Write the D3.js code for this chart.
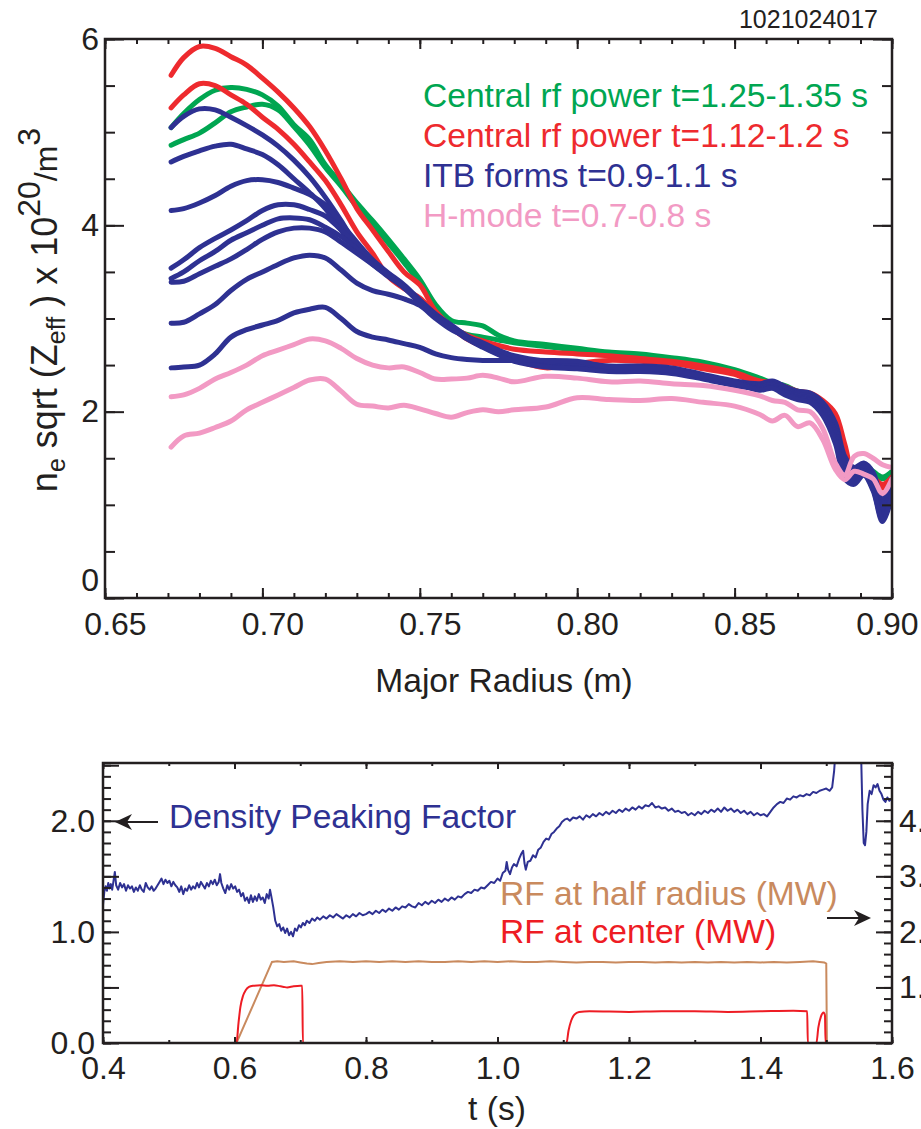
<!DOCTYPE html>
<html><head><meta charset="utf-8">
<script src="https://cdn.jsdelivr.net/npm/d3@7"></script>
<style>
body{margin:0;background:#fff;}
svg text{font-family:"Liberation Sans",Arial,Helvetica,sans-serif;}
</style></head><body>
<svg id="c" width="921" height="1129"></svg>
<script>
// ---------- TOP PANEL DATA: profiles vs major radius (m) ----------
const radius = [0.671,0.675,0.68,0.685,0.69,0.695,0.70,0.705,0.71,0.715,0.72,0.725,0.73,0.735,0.74,0.745,0.75,0.755,0.76,0.765,0.77,0.775,0.78,0.79,0.80,0.81,0.82,0.83,0.84,0.85,0.858,0.862,0.866,0.87,0.874,0.878,0.882,0.885,0.888,0.891,0.894,0.897,0.90];
const green1 = [5.05,5.20,5.35,5.45,5.48,5.46,5.40,5.28,5.08,4.92,4.65,4.45,4.24,4.05,3.85,3.64,3.42,3.15,2.98,2.95,2.92,2.82,2.76,2.72,2.68,2.64,2.62,2.58,2.53,2.45,2.36,2.31,2.28,2.22,2.19,2.09,1.87,1.52,1.38,1.44,1.36,1.30,1.36];
const green2 = [4.86,4.92,4.99,5.10,5.22,5.27,5.30,5.24,5.06,4.86,4.62,4.42,4.20,4.01,3.81,3.60,3.38,3.12,2.90,2.83,2.80,2.77,2.74,2.70,2.66,2.62,2.60,2.56,2.50,2.42,2.34,2.29,2.26,2.20,2.17,2.07,1.85,1.50,1.36,1.42,1.34,1.28,1.34];
const red1 = [5.61,5.80,5.92,5.90,5.81,5.72,5.58,5.43,5.26,5.06,4.80,4.50,4.18,3.95,3.72,3.50,3.36,3.08,2.92,2.82,2.76,2.71,2.67,2.64,2.62,2.60,2.57,2.54,2.49,2.42,2.33,2.31,2.27,2.22,2.20,2.12,1.98,1.65,1.32,1.40,1.30,1.22,1.30];
const red2 = [5.26,5.40,5.52,5.50,5.40,5.30,5.16,5.03,4.87,4.68,4.48,4.22,3.93,3.70,3.45,3.32,3.22,3.05,2.90,2.78,2.70,2.62,2.56,2.47,2.52,2.55,2.54,2.52,2.46,2.40,2.29,2.29,2.24,2.19,2.17,2.09,1.93,1.58,1.30,1.38,1.28,1.18,1.27];
const blue1 = [5.05,5.17,5.25,5.24,5.16,5.07,4.97,4.85,4.70,4.52,4.30,4.05,3.78,3.60,3.46,3.34,3.18,3.03,2.92,2.80,2.72,2.64,2.58,2.53,2.52,2.49,2.49,2.47,2.40,2.33,2.30,2.33,2.27,2.22,2.20,2.10,1.88,1.52,1.40,1.45,1.35,1.05,1.28];
const blue2 = [4.68,4.74,4.80,4.85,4.87,4.82,4.76,4.65,4.50,4.35,4.18,3.95,3.74,3.58,3.45,3.33,3.17,3.02,2.91,2.79,2.71,2.63,2.57,2.52,2.50,2.47,2.47,2.45,2.39,2.32,2.29,2.32,2.26,2.20,2.19,2.08,1.84,1.48,1.38,1.43,1.30,1.00,1.25];
const blue3 = [4.16,4.18,4.24,4.32,4.42,4.48,4.49,4.46,4.40,4.33,4.22,4.02,3.82,3.63,3.49,3.36,3.20,3.05,2.93,2.81,2.72,2.64,2.57,2.51,2.49,2.46,2.46,2.44,2.38,2.31,2.28,2.31,2.25,2.19,2.17,2.06,1.82,1.46,1.36,1.41,1.28,0.97,1.22];
const blue4 = [3.54,3.63,3.76,3.86,3.95,4.05,4.16,4.22,4.22,4.17,4.10,3.95,3.80,3.62,3.48,3.35,3.19,3.04,2.92,2.80,2.71,2.63,2.56,2.50,2.48,2.45,2.45,2.43,2.37,2.30,2.27,2.30,2.24,2.18,2.16,2.04,1.79,1.44,1.34,1.40,1.25,0.94,1.20];
const blue5 = [3.43,3.50,3.62,3.72,3.84,3.92,4.00,4.07,4.08,4.06,3.98,3.88,3.75,3.60,3.47,3.34,3.18,3.03,2.91,2.79,2.70,2.62,2.55,2.49,2.47,2.44,2.44,2.42,2.36,2.29,2.26,2.29,2.22,2.17,2.14,2.02,1.76,1.40,1.31,1.38,1.22,0.90,1.17];
const blue6 = [3.39,3.40,3.48,3.56,3.64,3.74,3.85,3.93,3.97,3.97,3.93,3.82,3.70,3.58,3.46,3.33,3.17,3.02,2.90,2.78,2.69,2.61,2.54,2.48,2.46,2.43,2.43,2.41,2.35,2.28,2.25,2.27,2.21,2.15,2.13,2.00,1.73,1.36,1.28,1.36,1.20,0.87,1.14];
const blue7 = [2.95,2.96,3.05,3.15,3.30,3.42,3.50,3.58,3.65,3.68,3.65,3.52,3.38,3.30,3.26,3.21,3.14,3.00,2.88,2.80,2.74,2.66,2.60,2.54,2.52,2.48,2.48,2.45,2.39,2.32,2.24,2.26,2.20,2.14,2.12,1.98,1.70,1.32,1.25,1.34,1.17,0.84,1.12];
const blue8 = [2.47,2.48,2.50,2.62,2.80,2.88,2.93,2.98,3.06,3.10,3.12,3.00,2.86,2.80,2.77,2.73,2.69,2.62,2.58,2.56,2.55,2.55,2.55,2.55,2.54,2.48,2.47,2.44,2.38,2.31,2.23,2.25,2.18,2.13,2.10,1.96,1.66,1.28,1.22,1.32,1.15,0.82,1.10];
const pink1 = [2.16,2.18,2.25,2.35,2.42,2.50,2.60,2.66,2.72,2.78,2.76,2.68,2.57,2.50,2.47,2.48,2.42,2.35,2.35,2.36,2.39,2.36,2.32,2.38,2.36,2.32,2.33,2.30,2.28,2.23,2.17,2.12,2.10,2.02,2.00,1.82,1.45,1.32,1.52,1.55,1.50,1.43,1.40];
const pink2 = [1.62,1.74,1.77,1.83,1.90,2.02,2.10,2.18,2.26,2.34,2.35,2.22,2.08,2.06,2.04,2.07,2.03,1.98,1.94,1.99,2.02,2.00,2.02,2.05,2.15,2.13,2.12,2.14,2.10,2.06,1.97,1.90,1.96,1.84,1.88,1.70,1.38,1.27,1.36,1.33,1.28,1.12,1.28];

const legendLabels = ["Central rf power t=1.25-1.35 s","Central rf power t=1.12-1.2 s","ITB forms t=0.9-1.1 s","H-mode t=0.7-0.8 s"];
const topXTicks = [0.65,0.70,0.75,0.80,0.85,0.90];
const topYTicks = [0,2,4,6];

// ---------- BOTTOM PANEL DATA: time traces ----------
const peakingFactor = [[0.400,1.24],[0.402,1.36],[0.404,1.41],[0.406,1.37],[0.408,1.44],[0.410,1.39],[0.412,1.43],[0.414,1.38],[0.416,1.46],[0.418,1.54],[0.420,1.42],[0.423,1.38],[0.426,1.44],[0.429,1.40],[0.432,1.43],[0.435,1.37],[0.438,1.42],[0.441,1.39],[0.444,1.41],[0.447,1.36],[0.450,1.40],[0.453,1.37],[0.456,1.42],[0.459,1.38],[0.462,1.36],[0.465,1.44],[0.468,1.40],[0.471,1.38],[0.474,1.41],[0.477,1.37],[0.480,1.39],[0.483,1.42],[0.486,1.45],[0.489,1.48],[0.492,1.43],[0.495,1.47],[0.498,1.44],[0.501,1.46],[0.504,1.41],[0.507,1.45],[0.510,1.42],[0.513,1.40],[0.516,1.36],[0.519,1.41],[0.522,1.34],[0.525,1.39],[0.528,1.37],[0.531,1.42],[0.534,1.38],[0.537,1.41],[0.540,1.39],[0.543,1.44],[0.546,1.40],[0.549,1.45],[0.552,1.42],[0.555,1.39],[0.558,1.44],[0.561,1.41],[0.564,1.46],[0.567,1.43],[0.570,1.47],[0.573,1.42],[0.576,1.45],[0.578,1.52],[0.580,1.44],[0.583,1.39],[0.586,1.35],[0.589,1.42],[0.592,1.38],[0.595,1.43],[0.598,1.39],[0.601,1.41],[0.604,1.36],[0.607,1.38],[0.610,1.32],[0.613,1.35],[0.616,1.28],[0.619,1.31],[0.622,1.26],[0.625,1.33],[0.628,1.27],[0.631,1.32],[0.634,1.28],[0.637,1.34],[0.640,1.29],[0.643,1.31],[0.646,1.26],[0.649,1.34],[0.652,1.30],[0.654,1.38],[0.656,1.32],[0.659,1.22],[0.662,1.10],[0.665,1.05],[0.668,1.07],[0.671,1.01],[0.674,1.04],[0.677,0.99],[0.680,1.03],[0.683,0.97],[0.686,1.00],[0.689,0.96],[0.692,1.03],[0.695,1.01],[0.698,1.06],[0.701,1.04],[0.704,1.08],[0.707,1.06],[0.710,1.10],[0.714,1.08],[0.718,1.12],[0.722,1.10],[0.726,1.13],[0.730,1.11],[0.735,1.14],[0.740,1.12],[0.745,1.15],[0.750,1.13],[0.755,1.16],[0.760,1.14],[0.765,1.12],[0.770,1.15],[0.775,1.13],[0.780,1.16],[0.785,1.14],[0.790,1.17],[0.795,1.15],[0.800,1.16],[0.805,1.18],[0.810,1.16],[0.815,1.19],[0.820,1.17],[0.825,1.20],[0.830,1.18],[0.835,1.21],[0.840,1.19],[0.845,1.22],[0.850,1.20],[0.855,1.23],[0.860,1.22],[0.865,1.25],[0.870,1.23],[0.875,1.22],[0.880,1.26],[0.885,1.24],[0.890,1.27],[0.895,1.25],[0.900,1.28],[0.905,1.26],[0.910,1.29],[0.915,1.27],[0.920,1.30],[0.925,1.28],[0.930,1.31],[0.935,1.29],[0.940,1.32],[0.945,1.31],[0.950,1.34],[0.955,1.36],[0.960,1.35],[0.965,1.38],[0.970,1.37],[0.975,1.40],[0.980,1.39],[0.985,1.42],[0.990,1.45],[0.995,1.44],[1.000,1.48],[1.004,1.46],[1.008,1.53],[1.012,1.55],[1.014,1.63],[1.016,1.56],[1.019,1.52],[1.022,1.58],[1.025,1.61],[1.029,1.59],[1.033,1.66],[1.036,1.70],[1.039,1.73],[1.041,1.62],[1.043,1.56],[1.046,1.63],[1.050,1.64],[1.054,1.69],[1.058,1.67],[1.062,1.74],[1.066,1.76],[1.070,1.81],[1.074,1.84],[1.078,1.83],[1.082,1.88],[1.086,1.90],[1.090,1.93],[1.094,1.95],[1.098,1.99],[1.102,2.01],[1.106,2.02],[1.110,2.00],[1.115,2.03],[1.120,2.02],[1.125,2.04],[1.130,2.01],[1.135,2.05],[1.140,2.03],[1.145,2.06],[1.150,2.04],[1.155,2.07],[1.160,2.05],[1.165,2.08],[1.170,2.06],[1.175,2.09],[1.180,2.07],[1.185,2.10],[1.190,2.08],[1.195,2.11],[1.200,2.09],[1.205,2.12],[1.210,2.10],[1.215,2.13],[1.220,2.11],[1.225,2.14],[1.230,2.13],[1.235,2.16],[1.240,2.12],[1.245,2.13],[1.250,2.11],[1.255,2.12],[1.260,2.09],[1.265,2.11],[1.270,2.08],[1.275,2.09],[1.280,2.07],[1.285,2.08],[1.290,2.05],[1.295,2.07],[1.300,2.05],[1.305,2.08],[1.310,2.06],[1.315,2.09],[1.320,2.07],[1.325,2.10],[1.330,2.08],[1.335,2.11],[1.340,2.08],[1.345,2.12],[1.350,2.09],[1.355,2.11],[1.360,2.08],[1.365,2.10],[1.370,2.07],[1.375,2.09],[1.380,2.06],[1.385,2.08],[1.390,2.05],[1.395,2.07],[1.400,2.05],[1.405,2.06],[1.410,2.04],[1.415,2.08],[1.420,2.12],[1.425,2.15],[1.430,2.17],[1.435,2.16],[1.440,2.20],[1.445,2.19],[1.450,2.22],[1.455,2.21],[1.460,2.23],[1.465,2.22],[1.470,2.24],[1.475,2.23],[1.480,2.26],[1.485,2.25],[1.490,2.27],[1.495,2.28],[1.500,2.29],[1.505,2.27],[1.509,2.30],[1.512,2.45],[1.515,2.70],[1.518,2.95],[1.525,3.10],[1.540,3.10],[1.550,2.95],[1.553,2.60],[1.555,2.10],[1.557,1.80],[1.559,1.78],[1.561,1.90],[1.563,2.15],[1.566,2.27],[1.569,2.24],[1.572,2.32],[1.575,2.30],[1.578,2.33],[1.581,2.27],[1.584,2.24],[1.587,2.19],[1.590,2.17],[1.593,2.21],[1.596,2.18],[1.600,2.20]];
const rfHalfRadius = [[0.400,0],[0.603,0],[0.657,1.46],[0.665,1.47],[0.675,1.46],[0.690,1.47],[0.700,1.45],[0.710,1.43],[0.718,1.42],[0.728,1.44],[0.740,1.46],[0.760,1.47],[0.780,1.46],[0.800,1.47],[0.820,1.46],[0.840,1.47],[0.860,1.46],[0.880,1.47],[0.900,1.46],[0.920,1.46],[0.940,1.47],[0.960,1.46],[0.980,1.47],[1.000,1.46],[1.020,1.47],[1.040,1.46],[1.060,1.46],[1.080,1.47],[1.100,1.46],[1.120,1.45],[1.140,1.46],[1.160,1.46],[1.180,1.45],[1.200,1.46],[1.220,1.46],[1.240,1.45],[1.260,1.46],[1.280,1.45],[1.300,1.46],[1.320,1.45],[1.340,1.46],[1.360,1.45],[1.380,1.46],[1.400,1.45],[1.420,1.46],[1.440,1.45],[1.460,1.46],[1.480,1.47],[1.490,1.46],[1.497,1.45],[1.500,1.43],[1.501,0],[1.600,0]];
const rfCenter = [[0.400,0],[0.603,0],[0.606,0.35],[0.609,0.65],[0.613,0.85],[0.617,0.95],[0.622,1.01],[0.628,1.03],[0.640,1.04],[0.650,1.03],[0.660,1.04],[0.670,1.02],[0.675,1.01],[0.680,1.00],[0.690,1.02],[0.700,1.03],[0.703,1.03],[0.704,0],[1.105,0],[1.108,0.22],[1.112,0.40],[1.117,0.51],[1.124,0.56],[1.140,0.57],[1.200,0.56],[1.250,0.57],[1.300,0.57],[1.350,0.56],[1.400,0.57],[1.450,0.58],[1.471,0.57],[1.472,0],[1.485,0],[1.488,0.28],[1.492,0.48],[1.496,0.55],[1.498,0.50],[1.499,0],[1.600,0]];
const botXTicks = [0.4,0.6,0.8,1.0,1.2,1.4,1.6];
const botLeftTicks = [0,0.5,1,1.5,2,2.5];
const botRightTicks = [0,1,2,3,4,5];

// ---------- DRAWING ----------
const INK = '#231f20';
const GREEN = '#00a651', RED = '#ee2a2e', BLUE = '#2e3192', PINK = '#f29ac4';
const TAN = '#c98a5e', RED2 = '#ee1c24';
const FONT = '"Liberation Sans", Arial, Helvetica, sans-serif';
const TXT = 33.6;
const svg = d3.select('#c');
const defs = svg.append('defs');

function styleAxis(g, fs){
  g.attr('font-family', null).attr('font-size', null);
  g.select('.domain').remove();
  g.selectAll('.tick line').attr('stroke', INK).attr('stroke-width', 2);
  g.selectAll('.tick text').attr('fill', INK).attr('font-size', fs).attr('font-family', FONT);
  return g;
}

// ===== TOP PANEL =====
const xT = d3.scaleLinear().domain([0.65, 0.90]).range([105, 892]);
const yT = d3.scaleLinear().domain([0, 6]).range([598, 39]);
defs.append('clipPath').attr('id', 'clipT').append('rect')
  .attr('x', xT(0.65)).attr('y', yT(6)).attr('width', xT(0.90) - xT(0.65)).attr('height', yT(0) - yT(6));

const profiles = [
  {v: green1, c: GREEN}, {v: green2, c: GREEN},
  {v: red1, c: RED}, {v: red2, c: RED},
  {v: blue1, c: BLUE}, {v: blue2, c: BLUE}, {v: blue3, c: BLUE}, {v: blue4, c: BLUE},
  {v: blue5, c: BLUE}, {v: blue6, c: BLUE}, {v: blue7, c: BLUE}, {v: blue8, c: BLUE},
  {v: pink1, c: PINK}, {v: pink2, c: PINK}
];
const lineT = d3.line().x((d, i) => xT(radius[i])).y(d => yT(d)).curve(d3.curveCatmullRom.alpha(0.5));
svg.append('g').attr('clip-path', 'url(#clipT)')
  .selectAll('path').data(profiles).join('path')
  .attr('d', d => lineT(d.v)).attr('fill', 'none').attr('stroke', d => d.c)
  .attr('stroke-width', 5).attr('stroke-linejoin', 'round').attr('stroke-linecap', 'round');

const minorTopX = d3.range(65, 91).map(k => k / 100);
const minorTopY = d3.range(0, 13).map(k => k / 2);
// left
styleAxis(svg.append('g').attr('transform', `translate(${xT(0.65)},0)`)
  .call(d3.axisLeft(yT).tickValues(minorTopY).tickSize(-10).tickFormat('')), 32);
const yLab = styleAxis(svg.append('g').attr('transform', `translate(${xT(0.65)},0)`)
  .call(d3.axisLeft(yT).tickValues(topYTicks).tickSize(-19).tickPadding(6).tickFormat(d3.format('d'))), 32);
yLab.selectAll('.tick text').filter(d => d === 0).attr('y', -18);
// right
styleAxis(svg.append('g').attr('transform', `translate(${xT(0.90)},0)`)
  .call(d3.axisRight(yT).tickValues(minorTopY).tickSize(-10).tickFormat('')), 32);
styleAxis(svg.append('g').attr('transform', `translate(${xT(0.90)},0)`)
  .call(d3.axisRight(yT).tickValues(topYTicks).tickSize(-19).tickFormat('')), 32);
// bottom
styleAxis(svg.append('g').attr('transform', `translate(0,${yT(0)})`)
  .call(d3.axisBottom(xT).tickValues(minorTopX).tickSize(-5).tickFormat('')), 32);
const xLab = styleAxis(svg.append('g').attr('transform', `translate(0,${yT(0)})`)
  .call(d3.axisBottom(xT).tickValues(topXTicks).tickSize(-10).tickPadding(14).tickFormat(d3.format('.2f'))), 32);
xLab.selectAll('.tick text').attr('dx', d => d === 0.90 ? -5 : 10);
// top
styleAxis(svg.append('g').attr('transform', `translate(0,${yT(6)})`)
  .call(d3.axisTop(xT).tickValues(minorTopX).tickSize(-5).tickFormat('')), 32);
styleAxis(svg.append('g').attr('transform', `translate(0,${yT(6)})`)
  .call(d3.axisTop(xT).tickValues(topXTicks).tickSize(-10).tickFormat('')), 32);
svg.append('rect').attr('x', xT(0.65)).attr('y', yT(6)).attr('width', xT(0.90) - xT(0.65)).attr('height', yT(0) - yT(6))
  .attr('fill', 'none').attr('stroke', INK).attr('stroke-width', 2.5);

// legend
const legColors = [GREEN, RED, BLUE, PINK];
svg.append('g').selectAll('text').data(legendLabels).join('text')
  .attr('x', 423).attr('y', (d, i) => [107, 147, 187, 227][i])
  .attr('font-size', TXT).attr('fill', (d, i) => legColors[i]).text(d => d);

svg.append('text').attr('x', 878).attr('y', 28).attr('text-anchor', 'end')
  .attr('font-size', 25).attr('fill', INK).text('1021024017');

svg.append('text').attr('x', 504).attr('y', 692).attr('text-anchor', 'middle')
  .attr('font-size', TXT).attr('fill', INK).text('Major Radius (m)');

const yt = svg.append('text').attr('transform', 'translate(57,310) rotate(-90)')
  .attr('text-anchor', 'middle').attr('font-size', 36).attr('fill', INK);
yt.append('tspan').text('n');
yt.append('tspan').attr('font-size', 25).attr('dy', 8).text('e');
yt.append('tspan').attr('dy', -8).text(' sqrt (Z');
yt.append('tspan').attr('font-size', 25).attr('dy', 8).text('eff');
yt.append('tspan').attr('dy', -8).text(' ) x 10');
yt.append('tspan').attr('font-size', 32).attr('dy', -17).text('20');
yt.append('tspan').attr('font-size', 32).attr('dy', 17).text('/m');
yt.append('tspan').attr('font-size', 32).attr('dy', -17).text('3');

// ===== BOTTOM PANEL =====
const xB = d3.scaleLinear().domain([0.4, 1.6]).range([103, 892]);
const yBL = d3.scaleLinear().domain([0, 2.52]).range([1043, 763]);
const yBR = d3.scaleLinear().domain([0, 5.04]).range([1043, 763]);
defs.append('clipPath').attr('id', 'clipB').append('rect')
  .attr('x', xB(0.4)).attr('y', yBL(2.52)).attr('width', xB(1.6) - xB(0.4)).attr('height', yBL(0) - yBL(2.52));

const gB = svg.append('g').attr('clip-path', 'url(#clipB)');
gB.append('path').attr('d', d3.line().x(d => xB(d[0])).y(d => yBR(d[1]))(rfHalfRadius))
  .attr('fill', 'none').attr('stroke', TAN).attr('stroke-width', 2);
gB.append('path').attr('d', d3.line().x(d => xB(d[0])).y(d => yBR(d[1])).curve(d3.curveMonotoneX)(rfCenter))
  .attr('fill', 'none').attr('stroke', RED2).attr('stroke-width', 2);
gB.append('path').attr('d', d3.line().x(d => xB(d[0])).y(d => yBL(d[1]))(peakingFactor))
  .attr('fill', 'none').attr('stroke', BLUE).attr('stroke-width', 2).attr('stroke-linejoin', 'round');

const minorBX = d3.range(4, 17).map(k => k / 10);
const minorBL = d3.range(0, 26).map(k => k / 10);
const minorBR = d3.range(0, 26).map(k => k / 5);
styleAxis(svg.append('g').attr('transform', `translate(${xB(0.4)},0)`)
  .call(d3.axisLeft(yBL).tickValues(minorBL).tickSize(-8).tickFormat('')), 32);
styleAxis(svg.append('g').attr('transform', `translate(${xB(0.4)},0)`)
  .call(d3.axisLeft(yBL).tickValues(botLeftTicks).tickSize(-16).tickPadding(8)
    .tickFormat(d => d % 1 === 0 ? d.toFixed(1) : '')), 32);
styleAxis(svg.append('g').attr('transform', `translate(${xB(1.6)},0)`)
  .call(d3.axisRight(yBR).tickValues(minorBR).tickSize(-8).tickFormat('')), 32);
styleAxis(svg.append('g').attr('transform', `translate(${xB(1.6)},0)`)
  .call(d3.axisRight(yBR).tickValues(botRightTicks).tickSize(-16).tickPadding(7)
    .tickFormat(d => (d >= 1 && d <= 4) ? d.toFixed(1) : '')), 32);
styleAxis(svg.append('g').attr('transform', `translate(0,${yBL(0)})`)
  .call(d3.axisBottom(xB).tickValues(minorBX).tickSize(-3).tickFormat('')), 32);
styleAxis(svg.append('g').attr('transform', `translate(0,${yBL(0)})`)
  .call(d3.axisBottom(xB).tickValues(botXTicks).tickSize(-6).tickPadding(13).tickFormat(d3.format('.1f'))), 32);
styleAxis(svg.append('g').attr('transform', `translate(0,${yBL(2.52)})`)
  .call(d3.axisTop(xB).tickValues(minorBX).tickSize(-3).tickFormat('')), 32);
styleAxis(svg.append('g').attr('transform', `translate(0,${yBL(2.52)})`)
  .call(d3.axisTop(xB).tickValues(botXTicks).tickSize(-6).tickFormat('')), 32);
svg.append('rect').attr('x', xB(0.4)).attr('y', yBL(2.52)).attr('width', xB(1.6) - xB(0.4)).attr('height', yBL(0) - yBL(2.52))
  .attr('fill', 'none').attr('stroke', INK).attr('stroke-width', 2.5);

svg.append('text').attr('x', 169).attr('y', 828).attr('font-size', TXT).attr('fill', BLUE).text('Density Peaking Factor');
svg.append('text').attr('x', 500).attr('y', 905).attr('font-size', TXT).attr('fill', TAN).text('RF at half radius (MW)');
svg.append('text').attr('x', 500).attr('y', 943).attr('font-size', TXT).attr('fill', RED2).text('RF at center (MW)');
svg.append('text').attr('x', 497).attr('y', 1120).attr('text-anchor', 'middle').attr('font-size', TXT).attr('fill', INK).text('t (s)');

// arrows
function arrow(x1, x2, y){
  const dir = Math.sign(x2 - x1);
  svg.append('line').attr('x1', x1).attr('y1', y).attr('x2', x2 - dir * 6).attr('y2', y)
    .attr('stroke', INK).attr('stroke-width', 2);
  svg.append('path').attr('d', `M${x2},${y} L${x2 - dir * 17},${y - 8} L${x2 - dir * 12},${y} L${x2 - dir * 17},${y + 8} Z`)
    .attr('fill', INK);
}
arrow(158, 115, 822);
arrow(827, 871, 918);
</script></body></html>
